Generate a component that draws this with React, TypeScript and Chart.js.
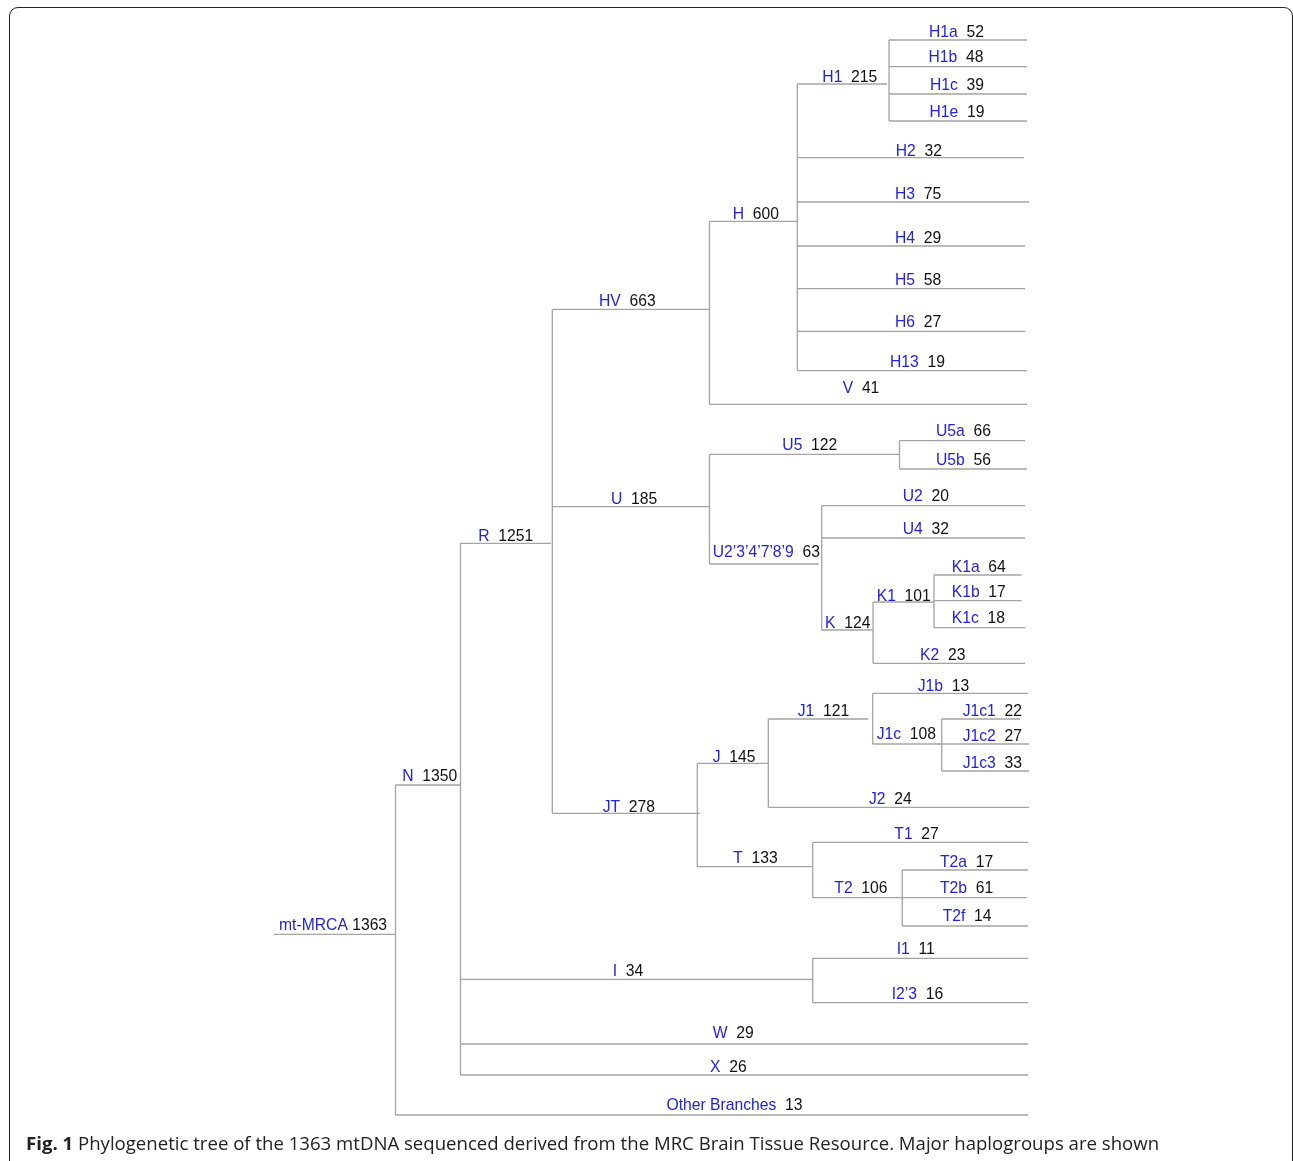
import React, { useEffect, useRef } from "react";
import { Chart, registerables } from "chart.js";

Chart.register(...registerables);

// ---- Tree data ----
const NAMES = [
  "mt-MRCA", "N", "R", "HV", "H", "H1", "H1a", "H1b", "H1c", "H1e",
  "H2", "H3", "H4", "H5", "H6", "H13", "V", "U", "U5", "U5a",
  "U5b", "U2’3’4’7’8’9", "U2", "U4", "K", "K1", "K1a", "K1b", "K1c", "K2",
  "JT", "J", "J1", "J1b", "J1c", "J1c1", "J1c2", "J1c3", "J2", "T",
  "T1", "T2", "T2a", "T2b", "T2f", "I", "I1", "I2’3", "W", "X",
  "Other Branches",
];
const COUNTS = [
  1363, 1350, 1251, 663, 600, 215, 52, 48, 39, 19,
  32, 75, 29, 58, 27, 19, 41, 185, 122, 66,
  56, 63, 20, 32, 124, 101, 64, 17, 18, 23,
  278, 145, 121, 13, 108, 22, 27, 33, 24, 133,
  27, 106, 17, 61, 14, 34, 11, 16, 29, 26,
  13,
];
const PARENTS: (string | null)[] = [
  null, "mt-MRCA", "N", "R", "HV", "H", "H1", "H1", "H1", "H1",
  "H", "H", "H", "H", "H", "H", "HV", "R", "U", "U5",
  "U5", "U", "U2’3’4’7’8’9", "U2’3’4’7’8’9", "U2’3’4’7’8’9", "K", "K1", "K1", "K1", "K",
  "R", "JT", "J", "J1", "J1", "J1c", "J1c", "J1c", "J", "JT",
  "T", "T", "T2", "T2", "T2", "N", "I", "I", "N", "N",
  "mt-MRCA",
];
// branch line vertical position (tree units, top = 0)
const LINE_Y = [
  934.3, 785, 543.3, 309.3, 221.3, 84, 40, 66.7, 94, 121,
  157.7, 202, 246, 288.7, 331.3, 370.7, 404.3, 506.7, 454.3, 440.7,
  469, 564, 505.7, 538, 630, 602, 575, 600.7, 627.7, 663.3,
  813.3, 763.3, 719, 693.3, 744, 719, 744, 771, 807.3, 866.7,
  842.3, 897.7, 870, 897.7, 926, 979.3, 958.3, 1002.7, 1044, 1075,
  1115,
];
// horizontal extent of each branch (tree units)
const ROOT_START_X = 274;
const LINE_END_X = [
  395.5, 460.5, 551, 709, 797.3, 887, 1027, 1027, 1027, 1027,
  1024, 1029, 1025, 1025, 1025, 1027, 1027, 709, 899.3, 1025,
  1027, 818.7, 1025, 1025, 872.3, 933.3, 1021.7, 1021.7, 1025, 1025,
  700, 768.3, 868.3, 1028.3, 941.7, 1020, 1029, 1029, 1029, 812.7,
  1028, 901.7, 1028, 1026.7, 1028, 812.7, 1028, 1028, 1028, 1028,
  1028,
];
// split point of internal nodes (null for tips)
const SPLIT_X: (number | null)[] = [
  395.5, 460.5, 552.3, 709.5, 797.3, 889, null, null, null, null,
  null, null, null, null, null, null, null, 709.5, 899.5, null,
  null, 821.7, null, null, 873, 934, null, null, null, null,
  697.3, 768.3, 872.7, null, 941.7, null, null, null, null, 812.7,
  null, 902.3, null, null, null, 812.7, null, null, null, null,
  null,
];
// label anchors (tree units)
const LABEL_X = [
  279, 402.3, 478.3, 599, 732.7, 822.3, 929, 928.5, 930, 929.5,
  895.7, 895, 895, 895, 895, 890, 842.7, 611, 782.3, 936,
  936, 712.7, 902.7, 902.7, 825, 876.7, 951.7, 951.7, 951.7, 920,
  602.7, 712.7, 797.7, 917.7, 876.7, 962.7, 962.7, 962.7, 869, 733.3,
  894.3, 834.3, 940, 940, 942.7, 612.7, 896.7, 891.7, 712.7, 710,
  666.5,
];
const LABEL_Y = [
  930, 781, 540.7, 306, 219.3, 81.7, 36.7, 62.3, 90, 117.3,
  155.7, 199, 242.7, 285, 327, 367, 393, 504, 450, 435.7,
  465, 557.3, 501, 534.3, 628.3, 600.7, 571.7, 597.3, 623.3, 660,
  811.7, 761.7, 715.7, 690.7, 739.3, 716, 740.7, 767.7, 804, 862.7,
  839.3, 893, 866.7, 893.3, 920.7, 975.7, 954.3, 999.3, 1038.3, 1071.7,
  1110,
];

const CAPTION_BOLD = "Fig. 1";
const CAPTION_TEXT =
  " Phylogenetic tree of the 1363 mtDNA sequenced derived from the MRC Brain Tissue Resource. Major haplogroups are shown";

const W = 1293;
const H = 1161;
const NAME_COLOR = "#2222e6";
const COUNT_COLOR = "#111111";
const LINE_COLOR = "#a4a4a4";
const LABEL_FONT = '15.7px "Liberation Sans", Arial, sans-serif';

function buildSegments() {
  const index = new Map<string, number>();
  NAMES.forEach((n, i) => index.set(n, i));
  const pts: { x: number | null; y: number | null }[] = [];
  NAMES.forEach((_, i) => {
    const p = PARENTS[i];
    const x0 = p === null ? ROOT_START_X : (SPLIT_X[index.get(p)!] as number);
    pts.push({ x: x0, y: LINE_Y[i] }, { x: LINE_END_X[i], y: LINE_Y[i] }, { x: null, y: null });
    const kids = NAMES.map((_, k) => k).filter((k) => PARENTS[k] === NAMES[i]);
    if (kids.length && SPLIT_X[i] !== null) {
      const ys = kids.map((k) => LINE_Y[k]);
      pts.push(
        { x: SPLIT_X[i], y: Math.min(...ys) },
        { x: SPLIT_X[i], y: Math.max(...ys) },
        { x: null, y: null }
      );
    }
  });
  return pts;
}

const labelPlugin = {
  id: "treeLabels",
  afterDatasetsDraw(chart: any) {
    const { ctx, scales } = chart;
    const xs = scales.x;
    const ys = scales.y;
    ctx.save();
    ctx.font = LABEL_FONT;
    ctx.textBaseline = "alphabetic";
    ctx.textAlign = "left";
    NAMES.forEach((name, i) => {
      const px = xs.getPixelForValue(LABEL_X[i]);
      const py = ys.getPixelForValue(LABEL_Y[i]);
      ctx.fillStyle = NAME_COLOR;
      ctx.fillText(name, px, py);
      const gap = i === 0 ? " " : "  ";
      const w = ctx.measureText(name + gap).width;
      ctx.fillStyle = COUNT_COLOR;
      ctx.fillText(String(COUNTS[i]), px + w, py);
    });
    ctx.restore();
  },
};

export default function App() {
  const ref = useRef<HTMLCanvasElement>(null);
  useEffect(() => {
    if (!ref.current) return;
    const chart = new Chart(ref.current, {
      type: "scatter",
      data: {
        datasets: [
          {
            data: buildSegments() as any,
            showLine: true,
            spanGaps: false,
            borderColor: LINE_COLOR,
            borderWidth: 1.3,
            pointRadius: 0,
            pointHoverRadius: 0,
            fill: false,
            tension: 0,
          },
        ],
      },
      options: {
        animation: false,
        responsive: false,
        maintainAspectRatio: false,
        devicePixelRatio: 1,
        layout: { padding: 0 },
        events: [],
        plugins: { legend: { display: false }, tooltip: { enabled: false } },
        scales: {
          x: { type: "linear", min: 0, max: W, display: false },
          y: { type: "linear", min: 0, max: H, reverse: true, display: false },
        },
      },
      plugins: [labelPlugin],
    });
    return () => chart.destroy();
  }, []);

  return (
    <div
      style={{
        position: "absolute",
        left: 0,
        top: 0,
        width: W,
        height: H,
        overflow: "hidden",
        background: "#fff",
      }}
    >
      <div
        style={{
          position: "absolute",
          left: 9,
          top: 7.3,
          width: W - 9,
          height: 1250,
          boxSizing: "border-box",
          border: "1.6px solid #222",
          borderRadius: 9,
        }}
      />
      <canvas
        ref={ref}
        width={W}
        height={H}
        style={{ position: "absolute", left: 0, top: 0, width: W, height: H }}
      />
      <div
        style={{
          position: "absolute",
          left: 26,
          top: 1130,
          whiteSpace: "nowrap",
          fontFamily: '"Open Sans", "Noto Sans", sans-serif',
          fontSize: 18.6,
          color: "#222",
        }}
      >
        <b>{CAPTION_BOLD}</b>
        {CAPTION_TEXT}
      </div>
    </div>
  );
}
